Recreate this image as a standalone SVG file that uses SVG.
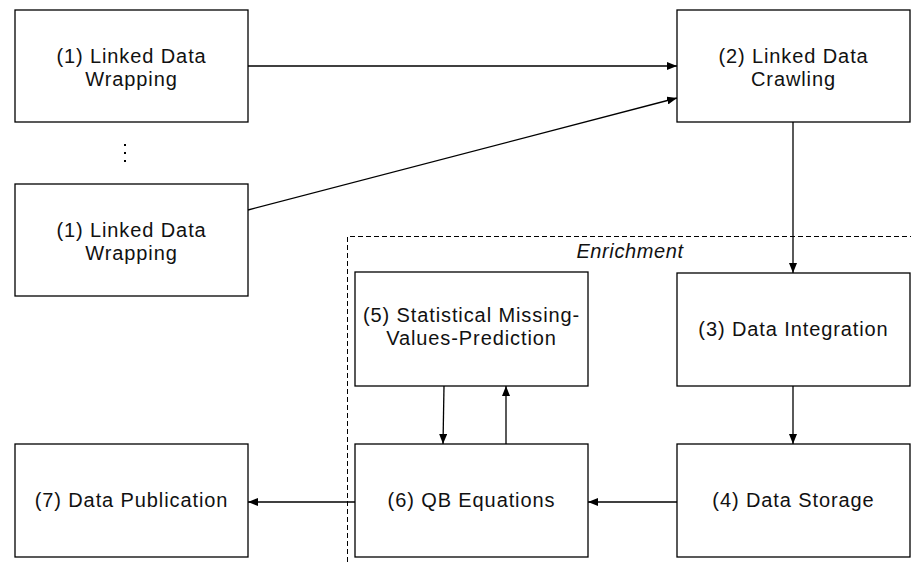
<svg xmlns="http://www.w3.org/2000/svg" width="911" height="562" viewBox="0 0 911 562">
<style>
  .box { fill: #ffffff; stroke: #000000; stroke-width: 1.3; }
  .lbl { font-family: "Liberation Sans", Arial, Helvetica, sans-serif; font-size: 20px; letter-spacing: 0.9px; fill: #111111; text-anchor: middle; }
  .conn { stroke: #000000; stroke-width: 1.3; fill: none; marker-end: url(#arr); }
  .dash { stroke: #000000; stroke-width: 1; fill: none; stroke-dasharray: 5 3; }
  .it { font-family: "Liberation Sans", Arial, Helvetica, sans-serif; font-size: 20px; letter-spacing: 0.6px; font-style: italic; fill: #111111; text-anchor: middle; }
</style>
<defs>
  <marker id="arr" viewBox="0 0 10 8" refX="10" refY="4" markerWidth="10" markerHeight="8" markerUnits="userSpaceOnUse" orient="auto">
    <path d="M0,0 L10,4 L0,8 Z" fill="#000000"/>
  </marker>
</defs>
<rect width="911" height="562" fill="#ffffff"/>

<g id="enrichment">
  <path class="dash" d="M347.5,562 L347.5,236.5 L911,236.5"/>
  <text class="it" x="630" y="258">Enrichment</text>
</g>

<g id="connectors">
  <line class="conn" x1="248" y1="66" x2="677" y2="66"/>
  <line class="conn" x1="248" y1="210" x2="677" y2="98"/>
  <line class="conn" x1="793" y1="122" x2="793" y2="273"/>
  <line class="conn" x1="793" y1="386" x2="793" y2="444"/>
  <line class="conn" x1="677" y1="502" x2="588" y2="502"/>
  <line class="conn" x1="355" y1="502" x2="248" y2="502"/>
  <line class="conn" x1="444" y1="386" x2="443" y2="444"/>
  <line class="conn" x1="506" y1="444" x2="506" y2="386"/>
</g>

<g id="node1a">
  <rect class="box" x="15" y="10" width="233" height="112"/>
  <text class="lbl" x="131.5" y="63">(1) Linked Data</text>
  <text class="lbl" x="131.5" y="86">Wrapping</text>
</g>

<g id="ellipsis">
  <rect x="124" y="144" width="2" height="2" fill="#000"/>
  <rect x="124" y="152" width="2" height="2" fill="#000"/>
  <rect x="124" y="160" width="2" height="2" fill="#000"/>
</g>

<g id="node1b">
  <rect class="box" x="15" y="184" width="233" height="112"/>
  <text class="lbl" x="131.5" y="237">(1) Linked Data</text>
  <text class="lbl" x="131.5" y="260">Wrapping</text>
</g>

<g id="node2">
  <rect class="box" x="677" y="10" width="233" height="112"/>
  <text class="lbl" x="793.5" y="63">(2) Linked Data</text>
  <text class="lbl" x="793.5" y="86">Crawling</text>
</g>

<g id="node3">
  <rect class="box" x="677" y="273" width="233" height="113"/>
  <text class="lbl" x="793.5" y="336">(3) Data Integration</text>
</g>

<g id="node4">
  <rect class="box" x="677" y="444" width="233" height="113"/>
  <text class="lbl" x="793.5" y="507">(4) Data Storage</text>
</g>

<g id="node5">
  <rect class="box" x="355" y="272" width="233" height="114"/>
  <text class="lbl" x="471.5" y="322">(5) Statistical Missing-</text>
  <text class="lbl" x="471.5" y="345">Values-Prediction</text>
</g>

<g id="node6">
  <rect class="box" x="355" y="444" width="233" height="113"/>
  <text class="lbl" x="471.5" y="507">(6) QB Equations</text>
</g>

<g id="node7">
  <rect class="box" x="15" y="444" width="233" height="113"/>
  <text class="lbl" x="131.5" y="507">(7) Data Publication</text>
</g>
</svg>
